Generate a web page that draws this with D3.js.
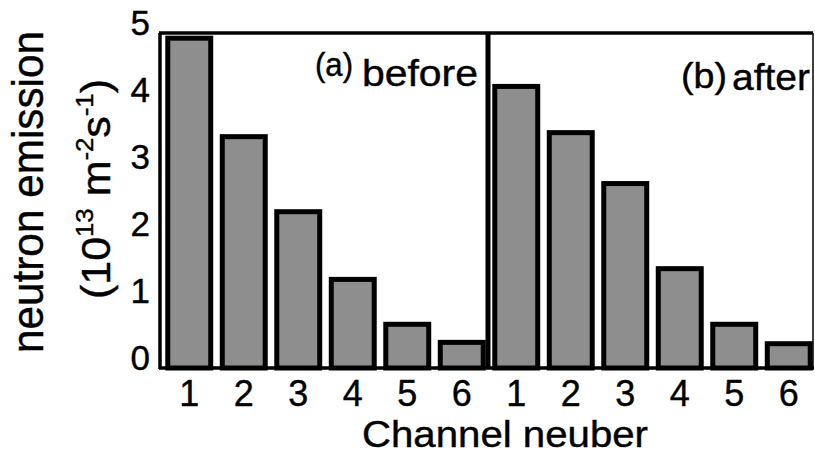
<!DOCTYPE html>
<html><head><meta charset="utf-8">
<script src="https://cdn.jsdelivr.net/npm/d3@7/dist/d3.min.js"></script>
<style>body{margin:0;background:#fff}svg{display:block}text{font-family:"Liberation Sans",Arial,Helvetica,sans-serif;fill:#000;stroke:#000;stroke-width:0.4px}</style>
</head><body>
<svg id="chart" width="815" height="458"></svg>
<script>
const channels = ["1","2","3","4","5","6"];
const beforeValues = [4.96, 3.49, 2.37, 1.36, 0.69, 0.42];
const afterValues  = [4.24, 3.55, 2.79, 1.52, 0.69, 0.40];
const yTicks = [0,1,2,3,4,5];
const panelLabels = [["(a)","before"],["(b)","after"]];
const xTitle = "Channel neuber";
const yTitle = "neutron emission";

const svg = d3.select("#chart");
const pLeft = 160, pRight = 813, pTop = 33, pBottom = 368, pMid = 488;
const y = d3.scaleLinear().domain([0,5]).range([pBottom, pTop]);
const xa = d3.scaleBand().domain(channels).range([162, 489]).paddingInner(0.12).paddingOuter(0.06);
const xb = d3.scaleBand().domain(channels).range([489, 816]).paddingInner(0.12).paddingOuter(0.06);

function drawBars(x, vals){
  svg.append("g").selectAll("rect").data(vals).join("rect")
    .attr("x",(d,i)=>x(channels[i])+2.5)
    .attr("width",x.bandwidth()-5)
    .attr("y",d=>y(d)+2.5)
    .attr("height",d=>pBottom-y(d)-2.5)
    .attr("fill","#8e8e8e").attr("stroke","#000").attr("stroke-width",5);
  const ax = d3.axisBottom(x).tickSize(0).tickPadding(0);
  const g = svg.append("g").attr("transform",`translate(0,${pBottom})`).call(ax);
  g.select(".domain").remove();
  g.selectAll("text").attr("font-size",36).attr("dy",null).attr("y",38)
    .attr("fill","#000")
    .style("font-family",'"Liberation Sans",Arial,sans-serif');
}
drawBars(xa, beforeValues);
drawBars(xb, afterValues);

// frame
svg.append("line").attr("x1",pLeft-1).attr("x2",pRight).attr("y1",pTop).attr("y2",pTop).attr("stroke","#000").attr("stroke-width",3.5);
svg.append("line").attr("x1",pLeft).attr("x2",pLeft).attr("y1",pTop).attr("y2",pBottom+1).attr("stroke","#000").attr("stroke-width",3.5);
svg.append("line").attr("x1",pLeft-1).attr("x2",pRight+1).attr("y1",pBottom).attr("y2",pBottom).attr("stroke","#000").attr("stroke-width",3.5);
svg.append("line").attr("x1",pRight).attr("x2",pRight).attr("y1",pTop).attr("y2",pBottom).attr("stroke","#000").attr("stroke-width",1.5);
svg.append("line").attr("x1",pMid).attr("x2",pMid).attr("y1",pTop).attr("y2",pBottom).attr("stroke","#000").attr("stroke-width",5);

// y axis labels
const ay = d3.axisLeft(y).tickValues(yTicks).tickSize(0).tickPadding(0).tickFormat(d3.format("d"));
const gy = svg.append("g").attr("transform",`translate(150,-10)`).call(ay);
gy.select(".domain").remove();
gy.selectAll("text").attr("font-size",35).attr("x",0).attr("fill","#000")
  .style("font-family",'"Liberation Sans",Arial,sans-serif');

// panel labels
svg.append("text").attr("x",315).attr("y",76).attr("font-size",33).attr("textLength",38).attr("lengthAdjust","spacingAndGlyphs").text(panelLabels[0][0]);
svg.append("text").attr("x",362).attr("y",86).attr("font-size",36).attr("textLength",116).attr("lengthAdjust","spacingAndGlyphs").text(panelLabels[0][1]);
svg.append("text").attr("x",681).attr("y",88).attr("font-size",35).attr("textLength",46).attr("lengthAdjust","spacingAndGlyphs").text(panelLabels[1][0]);
svg.append("text").attr("x",732).attr("y",90).attr("font-size",36).attr("textLength",78).attr("lengthAdjust","spacingAndGlyphs").text(panelLabels[1][1]);

// x title
svg.append("text").attr("x",362).attr("y",447).attr("font-size",36).attr("textLength",286).attr("lengthAdjust","spacingAndGlyphs").text(xTitle);

// y title
svg.append("text").attr("transform","translate(43,353) rotate(-90)").attr("font-size",44)
  .attr("textLength",322).attr("lengthAdjust","spacingAndGlyphs").text(yTitle);
const t2 = svg.append("text").attr("transform","translate(110,299) rotate(-90)").attr("font-size",40)
  .attr("textLength",220).attr("lengthAdjust","spacingAndGlyphs");
t2.append("tspan").text("(10");
t2.append("tspan").attr("font-size",24).attr("dy",-17).text("13");
t2.append("tspan").attr("dy",17).text(" m");
t2.append("tspan").attr("font-size",24).attr("dy",-17).text("-2");
t2.append("tspan").attr("dy",17).text("s");
t2.append("tspan").attr("font-size",24).attr("dy",-17).text("-1");
t2.append("tspan").attr("dy",17).text(")");
</script>
</body></html>
